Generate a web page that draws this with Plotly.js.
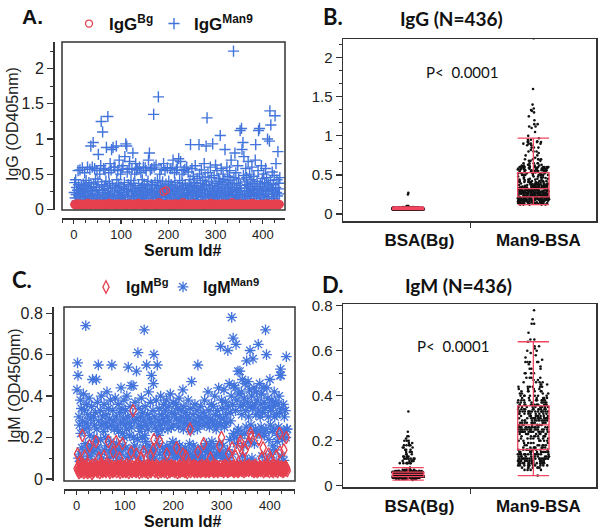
<!DOCTYPE html>
<html><head><meta charset="utf-8">
<script src="https://cdn.plot.ly/plotly-3.0.1.min.js"></script>
<style>html,body{margin:0;padding:0;background:#fff}#c{width:602px;height:532px}</style>
</head><body><div id="c"></div>
<script>
// ---------------- DATA ----------------
const groupLabels = ['BSA(Bg)', 'Man9-BSA'];
const xTickVals = [0, 100, 200, 300, 400];

// Panel A / B : IgG OD405nm per serum (N=436)
const igGMan9 = [
0.24,0.38,0.16,0.42,0.21,0.31,0.12,0.27,0.55,0.35,0.19,0.28,0.56,0.22,0.14,0.33,0.26,0.59,0.18,0.36,
0.29,0.17,0.52,0.34,0.23,0.41,0.13,0.3,0.6,0.25,0.2,0.38,0.15,0.57,0.27,0.9,0.32,0.18,0.6,0.22,
0.95,0.36,0.16,0.58,0.26,0.43,0.12,0.31,0.55,0.21,0.39,0.78,0.19,0.28,0.5,0.14,0.62,1.25,0.35,0.24,
1.1,0.27,0.58,0.17,0.33,0.56,0.21,0.4,0.88,0.15,0.3,1.32,0.23,0.52,0.37,0.18,0.65,0.29,0.56,0.85,
0.2,0.34,0.88,0.16,0.6,0.26,0.6,0.13,0.31,0.9,0.42,0.22,0.55,0.19,0.36,0.7,0.27,0.15,0.5,0.32,
0.24,0.57,0.17,0.62,0.3,0.21,0.38,0.75,0.14,0.93,0.28,0.9,0.53,0.19,0.35,0.25,0.58,0.68,0.12,0.33,
0.41,0.2,0.57,0.27,0.8,0.16,0.37,0.23,0.5,0.3,0.65,0.18,0.56,0.26,0.58,0.14,0.34,0.22,0.6,0.29,
0.19,0.52,0.31,0.15,0.42,0.25,0.6,0.21,0.36,0.13,0.59,0.28,0.55,0.17,0.33,0.24,0.4,0.7,0.2,0.8,
0.27,0.56,0.16,0.35,0.58,0.22,0.3,0.12,1.35,0.6,0.25,0.38,0.19,0.63,0.29,0.15,0.41,0.23,1.6,0.34,
0.21,0.5,0.17,0.32,0.57,0.26,0.14,0.39,0.24,0.65,0.3,0.18,0.55,0.2,0.36,0.28,0.13,0.59,0.22,0.33,
0.4,0.16,0.27,0.58,0.21,0.35,0.12,0.58,0.3,0.7,0.19,0.25,0.52,0.38,0.15,0.29,0.56,0.23,0.6,0.33,
0.18,0.72,0.26,0.41,0.14,0.68,0.31,0.22,0.5,0.37,0.17,0.28,0.55,0.2,0.57,0.34,0.13,0.24,0.6,0.3,
0.21,0.53,0.16,0.36,0.27,0.42,0.92,0.19,0.32,0.58,0.25,0.15,0.47,0.23,0.38,0.29,0.62,0.18,0.34,0.26,
0.44,0.2,0.31,0.14,0.92,0.5,0.24,0.37,0.17,0.56,0.28,0.22,0.41,0.33,0.13,0.65,0.27,0.46,0.19,0.9,
0.35,1.3,0.23,0.52,0.16,0.39,0.3,0.21,0.6,0.26,0.45,0.18,0.34,0.93,0.25,0.15,0.48,0.29,0.2,0.63,
0.37,0.22,0.55,0.17,0.32,0.44,0.27,0.13,0.4,1.05,0.24,0.58,0.19,0.35,0.3,0.5,0.16,0.42,0.26,0.85,
0.21,0.38,0.14,0.6,0.29,0.47,0.23,0.33,0.18,0.55,0.41,0.25,0.7,0.2,0.36,0.28,0.15,2.25,0.45,0.31,
0.8,0.24,0.52,0.17,0.37,0.27,0.62,0.21,0.43,0.3,0.14,1.12,0.34,0.26,1.15,0.85,0.19,0.95,0.48,0.75,
0.23,0.39,0.16,0.58,0.3,0.45,0.2,0.35,0.68,0.26,0.13,0.5,0.32,0.22,0.42,0.18,0.6,0.28,0.37,0.24,
0.47,0.19,0.33,0.7,0.92,0.27,0.15,0.4,0.23,0.55,1.12,0.3,1.15,0.21,0.36,0.17,0.62,0.26,0.44,0.32,
0.2,0.5,0.14,0.38,0.28,0.58,0.22,0.45,0.33,1.0,0.18,0.36,0.25,0.97,1.4,0.41,1.2,0.3,0.16,0.53,
0.27,0.35,0.21,0.48,0.15,1.33,0.31,0.65,0.24,0.42,0.19,0.82,0.29,0.37,0.22,0.45];

const igGBg = [
.07,.06,.08,.065,.055,.07,.075,.06,.085,.065,.07,.06,.075,.055,.07,.065,.08,.06,.07,.065,
.06,.075,.065,.07,.055,.08,.06,.07,.065,.09,.06,.07,.075,.065,.055,.07,.06,.08,.065,.07,
.065,.07,.06,.08,.07,.055,.065,.075,.06,.07,.065,.085,.06,.07,.075,.06,.065,.07,.055,.08,
.07,.06,.075,.065,.07,.06,.08,.055,.07,.065,.075,.06,.07,.065,.09,.06,.07,.075,.065,.06,
.075,.065,.07,.06,.08,.065,.055,.07,.06,.075,.065,.07,.06,.085,.07,.065,.06,.075,.07,.065,
.06,.07,.065,.08,.06,.07,.075,.065,.055,.07,.06,.08,.07,.065,.06,.075,.07,.06,.085,.065,
.07,.065,.06,.075,.07,.06,.065,.08,.07,.055,.065,.07,.075,.06,.07,.065,.09,.06,.07,.075,
.065,.07,.06,.075,.065,.07,.08,.06,.07,.065,.055,.075,.07,.06,.065,.08,.07,.06,.075,.065,
.07,.06,.085,.065,.07,.075,.06,.07,.065,.06,.08,.07,.065,.055,.07,.075,.06,.07,.065,.1,
.06,.07,.075,.065,.07,.06,.08,.065,.07,.25,.06,.075,.065,.07,.27,.06,.07,.065,.08,.06,
.07,.065,.06,.075,.07,.08,.06,.065,.07,.055,.075,.065,.07,.06,.085,.07,.065,.06,.075,.07,
.065,.07,.06,.08,.065,.07,.075,.06,.07,.065,.1,.06,.07,.075,.065,.06,.08,.07,.065,.06,
.07,.075,.065,.06,.07,.08,.06,.065,.07,.075,.06,.07,.065,.085,.06,.07,.075,.065,.06,.07,
.065,.06,.07,.075,.065,.07,.06,.08,.07,.065,.06,.075,.07,.065,.055,.07,.08,.06,.07,.065,
.07,.065,.08,.06,.07,.075,.065,.06,.07,.09,.065,.07,.06,.075,.07,.065,.06,.08,.07,.065,
.06,.075,.07,.065,.06,.08,.07,.065,.075,.06,.07,.065,.06,.085,.07,.075,.065,.06,.07,.08,
.065,.07,.06,.075,.07,.065,.08,.06,.07,.075,.065,.06,.07,.065,.1,.06,.075,.07,.065,.06,
.07,.065,.075,.06,.07,.08,.065,.07,.06,.075,.065,.07,.085,.06,.07,.065,.06,.075,.07,.065,
.06,.07,.065,.08,.07,.06,.075,.065,.07,.06,.08,.065,.07,.075,.06,.07,.065,.09,.06,.07,
.075,.065,.07,.06,.08,.065,.07,.075,.06,.07,.065,.06,.075,.07,.065,.08,.06,.07,.065,.075,
.065,.07,.06,.075,.07,.065,.085,.06,.07,.065,.075,.06,.07,.08,.065,.06,.07,.075,.065,.07,
.06,.07,.065,.08,.07,.06,.075,.065,.07,.06,.085,.07,.065,.06,.075,.07];

// Panel C / D : IgM OD450nm per serum (N=436)
const igMMan9 = [
0.43,0.56,0.5,0.1,0.3,0.26,0.12,0.38,0.22,0.34,0.15,0.28,0.08,0.41,0.09,0.33,0.24,0.17,0.74,0.27,
0.36,0.14,0.31,0.25,0.11,0.39,0.21,0.11,0.29,0.16,0.35,0.15,0.48,0.13,0.3,0.2,0.26,0.08,0.32,0.18,
0.48,0.24,0.37,0.15,0.55,0.28,0.12,0.12,0.33,0.19,0.4,0.26,0.1,0.3,0.07,0.23,0.36,0.14,0.27,0.2,
0.31,0.16,0.42,0.25,0.07,0.34,0.1,0.29,0.13,0.38,0.18,0.26,0.55,0.14,0.33,0.11,0.28,0.24,0.15,0.39,
0.12,0.3,0.17,0.25,0.09,0.36,0.23,0.14,0.32,0.08,0.27,0.44,0.12,0.34,0.22,0.16,0.29,0.38,0.2,0.26,
0.33,0.15,0.24,0.4,0.1,0.3,0.54,0.11,0.27,0.21,0.35,0.14,0.45,0.25,0.13,0.31,0.45,0.2,0.28,0.16,
0.37,0.11,0.14,0.52,0.29,0.19,0.61,0.26,0.34,0.1,0.23,0.3,0.08,0.39,0.25,0.2,0.32,0.15,0.28,0.72,
0.21,0.35,0.18,0.26,0.55,0.13,0.31,0.24,0.42,0.16,0.29,0.09,0.37,0.11,0.5,0.27,0.14,0.33,0.46,0.6,
0.1,0.3,0.25,0.14,0.38,0.23,0.55,0.17,0.28,0.21,0.34,0.12,0.26,0.4,0.08,0.31,0.24,0.15,0.29,0.36,
0.1,0.27,0.13,0.33,0.13,0.38,0.16,0.3,0.24,0.09,0.35,0.14,0.28,0.41,0.15,0.25,0.32,0.12,0.18,0.37,
0.26,0.14,0.31,0.1,0.36,0.17,0.29,0.12,0.11,0.34,0.25,0.39,0.16,0.28,0.14,0.33,0.13,0.3,0.09,0.43,
0.24,0.35,0.12,0.27,0.15,0.32,0.1,0.3,0.12,0.26,0.38,0.13,0.29,0.17,0.34,0.23,0.1,0.47,0.25,0.11,
0.31,0.16,0.28,0.1,0.36,0.14,0.27,0.12,0.33,0.24,0.55,0.07,0.3,0.11,0.26,0.09,0.35,0.15,0.29,0.14,
0.11,0.32,0.045,0.26,0.38,0.14,0.09,0.3,0.17,0.27,0.13,0.42,0.13,0.33,0.25,0.16,0.29,0.1,0.36,0.18,
0.28,0.11,0.35,0.15,0.26,0.4,0.1,0.31,0.24,0.12,0.33,0.27,0.13,0.44,0.17,0.3,0.12,0.64,0.26,0.38,
0.1,0.34,0.16,0.29,0.43,0.25,0.12,0.37,0.1,0.31,0.27,0.14,0.62,0.35,0.09,0.46,0.19,0.32,0.28,0.4,
0.78,0.12,0.36,0.68,0.22,0.45,0.2,0.44,0.33,0.65,0.17,0.38,0.23,0.52,0.24,0.41,0.08,0.52,0.35,0.21,
0.42,0.31,0.48,0.11,0.36,0.16,0.39,0.22,0.46,0.33,0.25,0.57,0.09,0.37,0.47,0.3,0.18,0.43,0.62,0.35,
0.26,0.4,0.1,0.34,0.58,0.23,0.44,0.17,0.36,0.24,0.31,0.42,0.07,0.38,0.22,0.65,0.33,0.22,0.46,0.3,
0.36,0.25,0.41,0.11,0.32,0.44,0.22,0.37,0.21,0.34,0.72,0.24,0.6,0.44,0.09,0.39,0.3,0.19,0.35,0.48,
0.26,0.33,0.12,0.38,0.23,0.16,0.35,0.24,0.42,0.3,0.14,0.37,0.08,0.31,0.18,0.21,0.36,0.25,0.4,0.32,
0.5,0.53,0.5,0.11,0.34,0.19,0.22,0.36,0.09,0.3,0.23,0.33,0.2,0.59,0.24,0.24];

const igMBg = [
.05,.12,.04,.06,.03,.08,.045,.055,.035,.07,.05,.21,.04,.065,.03,.05,.11,.045,.06,.035,
.04,.055,.03,.07,.045,.05,.16,.035,.06,.04,.05,.025,.065,.045,.035,.055,.04,.07,.05,.18,
.045,.06,.035,.05,.04,.1,.055,.03,.07,.045,.05,.04,.065,.035,.06,.045,.11,.05,.04,.055,
.035,.06,.045,.05,.07,.18,.04,.055,.03,.065,.045,.05,.04,.06,.035,.13,.05,.045,.04,.06,
.05,.18,.035,.055,.045,.06,.04,.05,.1,.03,.065,.045,.055,.04,.17,.035,.05,.06,.045,.04,
.055,.035,.05,.07,.04,.06,.045,.03,.055,.05,.065,.04,.13,.045,.035,.06,.33,.05,.04,.055,
.045,.06,.035,.12,.05,.04,.065,.045,.055,.03,.05,.06,.04,.1,.045,.035,.055,.05,.13,.04,
.06,.045,.035,.05,.04,.065,.055,.03,.045,.06,.05,.04,.11,.035,.055,.045,.05,.06,.14,.19,
.04,.055,.035,.05,.065,.045,.04,.06,.03,.05,.045,.18,.04,.055,.035,.06,.05,.045,.04,.065,
.05,.035,.06,.045,.04,.055,.12,.03,.05,.045,.06,.04,.035,.055,.05,.065,.045,.04,.06,.05,
.045,.055,.035,.06,.04,.05,.15,.045,.03,.055,.05,.04,.065,.035,.06,.045,.05,.04,.055,.12,
.04,.06,.045,.035,.05,.11,.04,.055,.03,.05,.045,.06,.04,.07,.24,.035,.055,.05,.045,.06,
.05,.04,.065,.035,.055,.045,.06,.04,.05,.035,.13,.045,.055,.04,.06,.05,.035,.045,.065,.04,
.055,.05,.17,.04,.06,.045,.035,.05,.065,.04,.055,.045,.06,.035,.05,.04,.1,.045,.055,.05,
.04,.06,.045,.035,.055,.05,.065,.04,.05,.045,.06,.035,.055,.04,.05,.16,.045,.06,.04,.2,
.05,.045,.06,.035,.055,.04,.065,.05,.045,.06,.04,.055,.035,.05,.12,.045,.04,.06,.05,.055,
.045,.15,.04,.06,.05,.035,.055,.045,.11,.04,.05,.06,.045,.035,.055,.05,.04,.16,.18,.06,
.05,.04,.1,.045,.055,.035,.06,.05,.14,.04,.055,.045,.06,.05,.17,.04,.065,.045,.055,.22,
.2,.05,.04,.06,.045,.055,.035,.05,.065,.04,.06,.045,.05,.035,.055,.04,.19,.05,.045,.06,
.04,.055,.1,.045,.05,.15,.035,.06,.045,.04,.055,.05,.06,.04,.065,.045,.12,.05,.035,.1,
.055,.045,.06,.04,.05,.065,.035,.055,.045,.05,.06,.04,.11,.045,.05,.035,.055,.06,.045,.22,
.13,.05,.04,.06,.045,.055,.035,.05,.14,.04,.055,.045,.06,.2,.05,.04];

// ---------------- STYLE ----------------
const W = 602, H = 532;
const px = v => v / W, py = v => 1 - v / H;
const RED = '#e6404f', BLUE = '#4274dc', BOXRED = '#f24560', AX = '#333333';
const ARIAL = 'Liberation Sans, Arial, sans-serif';
const CAL = 'Lato, Carlito, Calibri, sans-serif';
const serumIds = igGMan9.map((_, i) => i + 1);

// box: points layer (no lines) + red box layer on top (Tukey whiskers, hidden outlier marks)
const boxPts = (y, pos, xa, ya, name) => ({type:'box', y, x0:pos, xaxis:xa, yaxis:ya, name, showlegend:false,
  boxpoints:'all', jitter:1, pointpos:0, width:0.25, whiskerwidth:1,
  line:{color:'rgba(0,0,0,0)', width:0}, fillcolor:'rgba(0,0,0,0)', marker:{color:'#111', size:2.6}});
const boxLines = (y, pos, xa, ya, name) => ({type:'box', y, x0:pos, xaxis:xa, yaxis:ya, name, showlegend:false,
  boxpoints:'outliers', pointpos:0, jitter:0, width:0.25, whiskerwidth:1,
  marker:{opacity:0, size:1, color:'rgba(0,0,0,0)'},
  line:{color:BOXRED, width:1.3}, fillcolor:'rgba(0,0,0,0)'});
// invisible spacer entry so the horizontal legend box is wide enough for the last label
const spacer = (xa, ya, lg) => ({type:'scatter', mode:'none', x:[null], y:[null], xaxis:xa, yaxis:ya,
  name:' ', legend:lg, legendrank:3, hoverinfo:'skip'});

const traces = [
  {type:'scatter', mode:'markers', x: serumIds, y: igGMan9, xaxis:'x', yaxis:'y',
   name:'<b>IgG<sup>Man9</sup></b>', legend:'legend', legendrank:2,
   marker:{symbol:'cross-thin-open', size:8, color:BLUE, line:{color:BLUE, width:1.4}}},
  {type:'scatter', mode:'markers', x: serumIds, y: igGBg, xaxis:'x', yaxis:'y',
   name:'<b>IgG<sup>Bg</sup></b>', legend:'legend', legendrank:1,
   marker:{symbol:'circle-open', size:7, color:RED, line:{color:RED, width:1.3}}},
  spacer('x', 'y', 'legend'),
  boxPts(igGBg, 0, 'x2', 'y2', groupLabels[0]),
  boxPts(igGMan9, 1, 'x2', 'y2', groupLabels[1]),
  boxLines(igGBg, 0, 'x2', 'y2', groupLabels[0]),
  boxLines(igGMan9, 1, 'x2', 'y2', groupLabels[1]),
  {type:'scatter', mode:'markers', x: serumIds, y: igMMan9, xaxis:'x3', yaxis:'y3',
   name:'<b>IgM<sup>Man9</sup></b>', legend:'legend2', legendrank:2,
   marker:{symbol:'asterisk-open', size:9, color:BLUE, line:{color:BLUE, width:1.3}}},
  {type:'scatter', mode:'markers', x: serumIds, y: igMBg, xaxis:'x3', yaxis:'y3',
   name:'<b>IgM<sup>Bg</sup></b>', legend:'legend2', legendrank:1,
   marker:{symbol:'diamond-tall-open', size:9, color:RED, line:{color:RED, width:1.3}}},
  spacer('x3', 'y3', 'legend2'),
  boxPts(igMBg, 0, 'x4', 'y4', groupLabels[0]),
  boxPts(igMMan9, 1, 'x4', 'y4', groupLabels[1]),
  boxLines(igMBg, 0, 'x4', 'y4', groupLabels[0]),
  boxLines(igMMan9, 1, 'x4', 'y4', groupLabels[1])
];

const baseAx = {showline:true, linecolor:AX, linewidth:1.5, showgrid:false, zeroline:false,
  ticks:'outside', tickcolor:AX, tickwidth:1.2, fixedrange:true};

const scatterX = (domain, pos, range) => Object.assign({}, baseAx, {
  domain, anchor:'free', position:pos, range, type:'linear',
  tickmode:'array', tickvals:xTickVals, ticklen:4,
  minor:{dtick:25, tick0:0, ticks:'outside', ticklen:3, tickcolor:AX, tickwidth:1},
  tickfont:{family:ARIAL, size:13, color:'#222'}});
const scatterY = (domain, pos, range, dt, mdt) => Object.assign({}, baseAx, {
  domain, anchor:'free', position:pos, range, dtick:dt, tick0:0, ticklen:6,
  minor:{dtick:mdt, tick0:0, ticks:'outside', ticklen:3, tickcolor:AX, tickwidth:1},
  tickfont:{family:ARIAL, size:16, color:'#222'}});
const boxX = (domain, anchor) => Object.assign({}, baseAx, {
  domain, anchor, range:[-0.52, 1.5], type:'linear', mirror:true, ticks:'',
  tickmode:'array', tickvals:[0.09, 1.04], ticktext:groupLabels, ticklabelstandoff:3,
  minor:{tickmode:'array', tickvals:[0.5], ticks:'outside', ticklen:5, tickcolor:AX, tickwidth:1},
  tickfont:{family:ARIAL, size:17, color:'#111', weight:'bold'}});
const boxY = (domain, anchor, range, dt, mdt) => Object.assign({}, baseAx, {
  domain, anchor, range, mirror:true, dtick:dt, tick0:0, ticklen:6,
  minor:{dtick:mdt, tick0:0, ticks:'outside', ticklen:3, tickcolor:AX, tickwidth:1},
  tickfont:{family:ARIAL, size:15, color:'#222'}});

const ann = (x, y, text, font, extra) => Object.assign({xref:'paper', yref:'paper', x:px(x), y:py(y),
  text, showarrow:false, xanchor:'center', yanchor:'middle', font}, extra || {});

const layout = {
  width: W, height: H, margin:{l:0, r:0, t:0, b:0},
  paper_bgcolor:'#fff', plot_bgcolor:'rgba(0,0,0,0)', boxmode:'overlay',
  xaxis: scatterX([px(62), px(285)], py(218), [-25, 447]),
  yaxis: scatterY([py(210), py(42)], px(53), [-0.01, 2.38], 0.5, 0.25),
  xaxis2: boxX([px(343), px(596)], 'y2'),
  yaxis2: boxY([py(221), py(39)], 'x2', [-0.09, 2.24], 0.5, 1/6),
  xaxis3: scatterX([px(64), px(295)], py(489), [-26, 452]),
  yaxis3: scatterY([py(481), py(307)], px(52), [-0.01, 0.83], 0.2, 0.1),
  xaxis4: boxX([px(343), px(596)], 'y4'),
  yaxis4: boxY([py(487), py(304)], 'x4', [-0.006, 0.808], 0.2, 0.1),
  legend: {x:px(69), y:py(6), xanchor:'left', yanchor:'top', orientation:'h',
    bgcolor:'rgba(0,0,0,0)', font:{family:ARIAL, size:17, color:'#111'}, itemwidth:30,
    entrywidth:40, traceorder:'normal'},
  legend2: {x:px(86), y:py(270), xanchor:'left', yanchor:'top', orientation:'h',
    bgcolor:'rgba(0,0,0,0)', font:{family:ARIAL, size:16, color:'#111'}, itemwidth:30,
    entrywidth:32, traceorder:'normal'},
  shapes: [
    {type:'rect', xref:'x domain', yref:'y domain', x0:0, x1:1, y0:0, y1:1, line:{color:AX, width:1.5}},
    {type:'rect', xref:'x3 domain', yref:'y3 domain', x0:0, x1:1, y0:0, y1:1, line:{color:AX, width:1.5}}
  ],
  annotations: [
    ann(32, 17, '<b>A.</b>', {family:ARIAL, size:21, color:'#111'}),
    ann(333, 17, '<b>B.</b>', {family:CAL, size:22, color:'#111'}),
    ann(22, 279, '<b>C.</b>', {family:CAL, size:22, color:'#111'}),
    ann(333, 284, '<b>D.</b>', {family:CAL, size:22, color:'#111'}),
    ann(451, 19, '<b>IgG (N=436)</b>', {family:CAL, size:19, color:'#111'}),
    ann(458, 285, '<b>IgM (N=436)</b>', {family:CAL, size:19, color:'#111'}),
    ann(462, 72, 'P&lt;  0.0001', {family:CAL, size:15, color:'#111'}),
    ann(453, 346, 'P&lt;  0.0001', {family:CAL, size:15, color:'#111'}),
    ann(13, 124, 'IgG (OD405nm)', {family:ARIAL, size:16, color:'#222'}, {textangle:-90}),
    ann(14, 386, 'IgM (OD450nm)', {family:ARIAL, size:16, color:'#222'}, {textangle:-90}),
    ann(182, 251, '<b>Serum Id#</b>', {family:ARIAL, size:16, color:'#111'}),
    ann(182, 521, '<b>Serum Id#</b>', {family:ARIAL, size:16, color:'#111'})
  ]
};

Plotly.newPlot('c', traces, layout, {displayModeBar:false, staticPlot:true});
</script></body></html>
